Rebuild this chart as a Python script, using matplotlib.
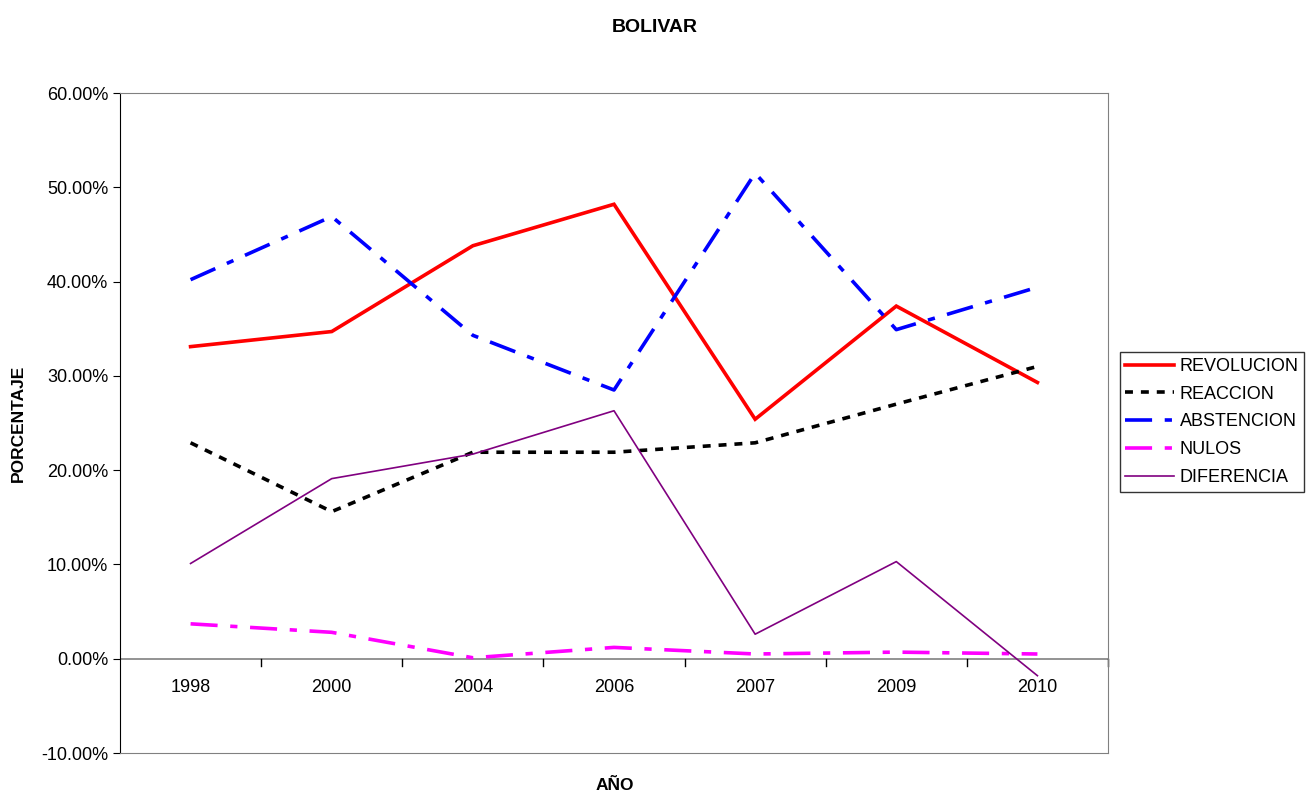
import matplotlib
matplotlib.use("Agg")
import matplotlib.pyplot as plt
from matplotlib.ticker import FuncFormatter, MultipleLocator

years = ["1998", "2000", "2004", "2006", "2007", "2009", "2010"]
revolucion = [33.1, 34.7, 43.8, 48.2, 25.4, 37.4, 29.3]
reaccion = [22.9, 15.6, 21.9, 21.9, 22.9, 27.0, 31.0]
abstencion = [40.2, 46.9, 34.3, 28.5, 51.5, 34.9, 39.4]
nulos = [3.7, 2.8, 0.1, 1.2, 0.5, 0.7, 0.5]
diferencia = [10.1, 19.1, 21.7, 26.3, 2.6, 10.3, -1.8]

plt.rcParams['font.family'] = ['Liberation Sans', 'DejaVu Sans']

fig = plt.figure(figsize=(13.1, 7.92), dpi=100)
ax = fig.add_axes([120/1310, 1-753/792, (1108-120)/1310, (753-93)/792])

x = list(range(len(years)))
ax.plot(x, revolucion, color='#FF0000', lw=2.6, label='REVOLUCION', solid_joinstyle='miter')
ax.plot(x, reaccion, color='black', lw=2.6, dashes=(2.2, 2.2), label='REACCION')
ax.plot(x, abstencion, color='#0000FF', lw=2.6, dashes=(7.5, 3.5, 2, 3.5), label='ABSTENCION')
ax.plot(x, nulos, color='#FF00FF', lw=2.6, dashes=(7.5, 3.5, 2, 3.5), label='NULOS')
ax.plot(x, diferencia, color='#800080', lw=1.2, label='DIFERENCIA')

ax.set_xlim(-0.5, len(years) - 0.5)
ax.set_ylim(-10, 60)
ax.yaxis.set_major_locator(MultipleLocator(10))
ax.yaxis.set_major_formatter(FuncFormatter(lambda v, p: f"{v:.2f}%"))
ax.set_xticks([])
for sp in ['top', 'right', 'bottom']:
    ax.spines[sp].set_color('#808080')
ax.spines['left'].set_color('black')
ax.axhline(0, color='#808080', lw=1.2, zorder=1)
# category boundary ticks on the zero line
for b in range(1, len(years) + 1):
    ax.plot([b - 0.5, b - 0.5], [0, -0.8], color='black', lw=1, clip_on=False)
for i, yr in enumerate(years):
    ax.text(i, -3.0, yr, ha='center', va='center', fontsize=13)
ax.tick_params(axis='y', labelsize=13, length=5, direction='out')

ax.set_ylabel('PORCENTAJE', fontsize=12.5, fontweight='bold', labelpad=11)
fig.text(615/1310, 1-785/792, 'AÑO', ha='center', va='center', fontsize=12.5, fontweight='bold')
fig.text(655/1310, 1-28/792, 'BOLIVAR', ha='center', va='center', fontsize=14, fontweight='bold')

leg = fig.legend(loc='center left', bbox_to_anchor=(1120/1310, 1-422/792), fontsize=13,
                 frameon=True, fancybox=False, edgecolor='black', handlelength=2.7,
                 borderpad=0.3, labelspacing=0.6, handletextpad=0.3, borderaxespad=0)
leg.get_frame().set_linewidth(1)

fig.savefig('out.png', dpi=100)
